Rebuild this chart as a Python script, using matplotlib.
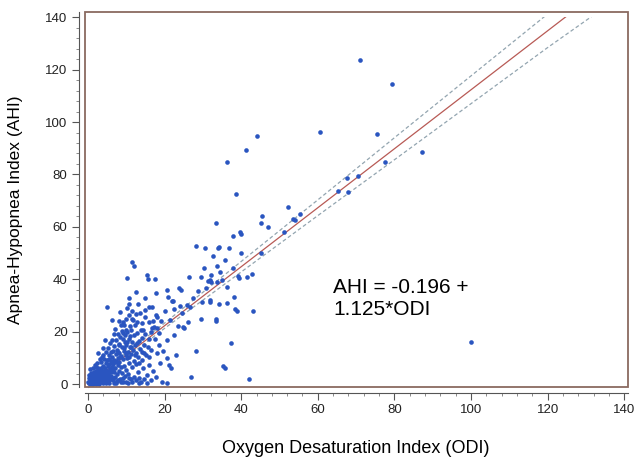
"""AHI vs ODI scatter with regression line and 95% confidence band."""
import matplotlib.pyplot as plt
import numpy as np
from matplotlib.patches import Rectangle
from matplotlib.ticker import MultipleLocator

plt.rcParams["font.family"] = ["Liberation Sans", "DejaVu Sans"]

# (ODI, AHI) pairs
POINTS = [
    # ODI 0-2
    (0.2, 0.5), (0.4, 1.2), (0.5, 0.3), (0.6, 2.0), (0.8, 0.8), (0.9, 1.6), (1.0, 0.2),
    (1.1, 2.6), (1.2, 1.0), (1.3, 0.5), (1.4, 1.8), (1.5, 3.2), (1.6, 0.9), (1.7, 2.3),
    (1.8, 1.4), (1.9, 0.4), (2.0, 2.9), (0.3, 2.4), (0.7, 3.5), (1.2, 4.1), (1.6, 4.8),
    (0.5, 5.6), (0.1, 1.0), (0.6, 0.1), (1.4, 0.0), (0.3, 3.6), (0.9, 4.4), (1.0, 2.9),
    (1.3, 6.2),
    # ODI 2-4
    (2.1, 1.2), (2.2, 3.8), (2.3, 0.6), (2.4, 2.1), (2.5, 4.6), (2.6, 1.7), (2.7, 3.0),
    (2.8, 0.9), (2.9, 5.4), (3.0, 2.4), (3.1, 3.6), (3.2, 1.3), (3.3, 6.2), (3.4, 4.1),
    (3.5, 0.7), (3.6, 2.8), (3.7, 5.0), (3.8, 1.9), (3.9, 3.3), (4.0, 7.1), (2.4, 8.0),
    (3.0, 9.5), (2.2, 6.6), (3.6, 10.2), (1.8, 7.2), (2.2, 0.2), (2.9, 0.1), (3.4, 1.6),
    (2.0, 4.9), (2.6, 6.0), (2.0, 1.9), (2.7, 2.4), (3.3, 3.2), (3.8, 4.6), (3.5, 8.4),
    (3.8, 13.6), (2.6, 12.0),
    # ODI 4-6
    (4.1, 1.0), (4.2, 4.4), (4.3, 2.6), (4.4, 6.0), (4.5, 3.4), (4.6, 8.2), (4.7, 1.6),
    (4.8, 5.2), (4.9, 2.2), (5.0, 9.3), (5.1, 4.0), (5.2, 6.8), (5.3, 0.8), (5.4, 3.0),
    (5.5, 7.6), (5.6, 11.0), (5.7, 5.8), (5.8, 2.0), (5.9, 4.6), (6.0, 8.8), (4.6, 12.4),
    (5.2, 13.8), (4.0, 11.3), (5.8, 15.6), (5.0, 29.5), (4.4, 17.0), (4.0, 0.3), (4.6, 0.5),
    (5.1, 1.3), (5.6, 0.4), (4.3, 5.4), (4.8, 3.6), (5.3, 5.2), (4.2, 9.6), (5.6, 9.6),
    # ODI 6-8
    (6.1, 3.2), (6.2, 6.4), (6.3, 10.4), (6.4, 1.4), (6.5, 7.8), (6.6, 12.6), (6.7, 4.8),
    (6.8, 9.2), (6.9, 14.6), (7.0, 2.6), (7.1, 6.0), (7.2, 11.6), (7.3, 8.4), (7.4, 17.0),
    (7.5, 3.8), (7.6, 13.2), (7.7, 7.2), (7.8, 10.0), (7.9, 19.2), (8.0, 5.0), (6.3, 16.8),
    (7.0, 21.0), (6.8, 0.6), (7.5, 1.2), (8.0, 15.4), (6.0, 1.8), (6.6, 2.2), (7.2, 0.5),
    (7.9, 1.5), (6.2, 8.2), (6.6, 5.8), (7.2, 9.0), (6.0, 12.2), (7.8, 12.4), (6.8, 19.0),
    (6.2, 24.6),
    # ODI 8-10
    (8.1, 8.6), (8.2, 12.0), (8.3, 2.0), (8.4, 17.8), (8.5, 6.4), (8.6, 10.6), (8.7, 22.6),
    (8.8, 14.0), (8.9, 4.2), (9.0, 23.8), (9.1, 9.4), (9.2, 19.6), (9.3, 12.8), (9.4, 22.6),
    (9.5, 7.0), (9.6, 16.2), (9.7, 3.0), (9.8, 11.0), (9.9, 25.0), (10.0, 14.8), (8.4, 27.4),
    (9.2, 0.8), (10.0, 5.4), (8.8, 20.4), (9.6, 18.6), (8.6, 0.9), (9.0, 2.5), (9.9, 1.0),
    (8.4, 10.2), (8.2, 15.0), (9.5, 13.8), (9.0, 17.2), (9.8, 20.8), (8.0, 24.0),
    # ODI 10-12
    (10.1, 9.8), (10.2, 20.0), (10.3, 29.0), (10.3, 40.4), (10.4, 12.4), (10.5, 4.0),
    (10.6, 17.4), (10.7, 26.4), (10.7, 32.8), (10.8, 8.0), (10.9, 14.2), (11.0, 22.0),
    (11.1, 20.7), (11.2, 1.8), (11.3, 11.6), (11.4, 16.0), (11.6, 46.6), (11.6, 6.6),
    (11.7, 24.4), (11.8, 13.0), (11.9, 9.0), (12.0, 45.1), (12.0, 18.8), (11.5, 28.0),
    (10.5, 0.6), (12.0, 2.8), (10.8, 2.4), (11.6, 0.9), (10.0, 12.0), (10.6, 10.2),
    (10.2, 16.0), (11.2, 14.0), (11.0, 18.4), (11.4, 25.0), (10.8, 30.4),
    # ODI 12-14
    (12.2, 15.0), (12.3, 22.4), (12.4, 7.8), (12.5, 12.0), (12.7, 19.6), (12.9, 23.8),
    (13.0, 10.4), (13.1, 4.6), (13.3, 2.2), (13.4, 16.6), (13.5, 27.0), (13.6, 13.4),
    (13.8, 20.8), (14.0, 9.2), (14.2, 23.5), (14.2, 12.4), (13.0, 30.6), (12.6, 35.0),
    (13.8, 1.0), (14.0, 17.6), (12.6, 1.4), (13.4, 0.6), (12.2, 11.0), (12.8, 15.8),
    (13.2, 8.2), (12.4, 26.6),
    # ODI 14-16
    (14.4, 6.0), (14.6, 14.8), (14.8, 19.0), (15.0, 25.6), (15.2, 11.0), (15.3, 41.7),
    (15.5, 3.4), (15.7, 40.0), (15.9, 23.8), (15.9, 10.4), (15.9, 29.6), (16.0, 17.2),
    (14.8, 28.4), (15.4, 0.6), (16.0, 7.4), (14.6, 2.0), (14.6, 11.8), (15.6, 14.0),
    (14.4, 20.6), (15.0, 33.0),
    # ODI 16-19
    (16.4, 13.0), (16.8, 21.3), (16.8, 29.6), (17.2, 21.7), (17.4, 40.2), (17.7, 34.7),
    (17.7, 26.4), (18.1, 25.7), (18.1, 21.3), (18.1, 11.7), (18.5, 19.4), (18.6, 15.0),
    (17.0, 5.0), (18.9, 8.0), (17.5, 17.2), (19.0, 24.0), (16.5, 1.4), (17.8, 2.8),
    (16.4, 19.8), (17.0, 24.2),
    # ODI 19-25
    (19.5, 12.6), (20.0, 28.0), (20.5, 36.0), (20.7, 16.8), (20.7, 9.8), (20.7, 0.3),
    (21.0, 33.2), (21.1, 7.3), (21.6, 6.0), (21.5, 24.6), (22.0, 31.9), (22.3, 31.9),
    (22.5, 28.6), (22.5, 18.7), (22.9, 11.1), (23.5, 22.0), (23.8, 36.6), (24.2, 36.0),
    (24.9, 21.7), (24.0, 30.0), (24.5, 27.0), (19.2, 0.8),
    # ODI 25-30
    (25.1, 21.3), (25.9, 30.2), (26.1, 23.6), (26.4, 40.8), (26.6, 29.6), (27.0, 2.6),
    (28.1, 52.7), (28.2, 12.7), (29.6, 40.7), (29.6, 24.8), (29.8, 31.3), (30.3, 44.2),
    (30.5, 52.1), (30.7, 36.6), (27.5, 33.0), (28.8, 35.5),
    # ODI 30-40
    (31.4, 39.5), (31.9, 39.8), (31.9, 32.1), (31.9, 31.3), (32.0, 41.7), (32.2, 38.8),
    (32.5, 49.0), (33.3, 24.2), (33.5, 24.9), (33.4, 61.4), (33.8, 45.1), (33.8, 39.0),
    (33.9, 52.1), (34.1, 52.5), (34.2, 30.5), (34.5, 42.9), (35.1, 39.8), (35.2, 7.0),
    (35.8, 6.0), (35.8, 47.4), (36.2, 84.8), (36.4, 37.0), (36.4, 31.1), (36.8, 51.9),
    (37.3, 15.8), (37.9, 56.6), (37.9, 44.2), (38.1, 33.4), (38.4, 28.7), (38.6, 72.4),
    (38.8, 27.9), (39.2, 41.3), (39.4, 40.4), (39.7, 58.0), (39.9, 50.0), (40.0, 57.2),
    # ODI 40-60
    (41.2, 89.5), (41.6, 41.0), (42.0, 1.8), (42.9, 42.1), (43.0, 27.8), (44.1, 94.5),
    (45.2, 61.4), (45.2, 50.0), (45.5, 64.0), (47.1, 59.8), (51.2, 57.9), (52.3, 67.6),
    (53.4, 63.1), (54.0, 62.7), (55.4, 64.9),
    # ODI 60+
    (60.5, 96.3), (65.4, 73.8), (67.6, 78.7), (67.8, 73.3), (70.6, 79.3), (71.0, 123.6),
    (75.5, 95.5), (77.5, 84.8), (79.5, 114.7), (87.3, 88.6), (100.0, 16.0),
]
odi = np.array([p[0] for p in POINTS])
ahi = np.array([p[1] for p in POINTS])

INTERCEPT, SLOPE = -0.196, 1.125
# half-width of the confidence band, read at a few ODI values
BAND_X = [0, 10, 20, 40, 60, 80, 100, 120, 135]
BAND_HW = [1.2, 0.9, 1.0, 2.0, 3.0, 4.2, 5.3, 6.4, 7.8]

BLUE, RED, GREY, FRAME = "#2a55c0", "#b85a55", "#93a5b0", "#8a6a60"


def main() -> None:
    fig = plt.figure(figsize=(6.37, 4.62), dpi=100)
    ax = fig.add_axes([0.1334, 0.1623, 0.8525, 0.8107])

    bx = np.array(BAND_X, dtype=float)
    fit = INTERCEPT + SLOPE * bx
    hw = np.array(BAND_HW)
    clip = Rectangle((-5, -10), 200, 150, transform=ax.transData)
    ln = ax.plot(bx, fit, "-", color=RED, lw=0.9)[0]
    ln.set_clip_path(clip)
    for y in (fit + hw, fit - hw):
        ln = ax.plot(bx, y, color=GREY, lw=0.9, dashes=(3, 2))[0]
        ln.set_clip_path(clip)

    ax.scatter(odi, ahi, s=11, color=BLUE, marker="o", linewidths=0, zorder=3)

    ax.text(64, 40.5, "AHI = -0.196 +\n1.125*ODI", fontsize=15, va="top", linespacing=1.2)

    ax.set_xlim(-0.8, 141)
    ax.set_ylim(-1.1, 141.8)
    ax.xaxis.set_major_locator(MultipleLocator(20))
    ax.yaxis.set_major_locator(MultipleLocator(20))
    ax.xaxis.set_minor_locator(MultipleLocator(4))
    ax.yaxis.set_minor_locator(MultipleLocator(4))
    ax.tick_params(which="major", length=5, width=0.8, color="#555555", labelsize=9.5,
                   labelcolor="#222222", direction="out")
    ax.tick_params(which="minor", length=2.5, width=0.6, color="#777777", direction="out")

    for side in ("left", "bottom"):
        ax.spines[side].set_position(("outward", 4))
        ax.spines[side].set_color("#555555")
        ax.spines[side].set_linewidth(0.8)
    for side in ("top", "right"):
        ax.spines[side].set_visible(False)
    ax.add_patch(Rectangle((0, 0), 1, 1, transform=ax.transAxes, fill=False,
                           edgecolor=FRAME, lw=1.3, clip_on=False, zorder=4))

    fig.text(0.5585, 0.03, "Oxygen Desaturation Index (ODI)", fontsize=13, ha="center", va="center")
    fig.text(0.024, 0.545, "Apnea-Hypopnea Index (AHI)", fontsize=12.5, rotation=90,
             ha="center", va="center")

    fig.savefig("out.png", dpi=100)
    plt.close(fig)


if __name__ == "__main__":
    main()
